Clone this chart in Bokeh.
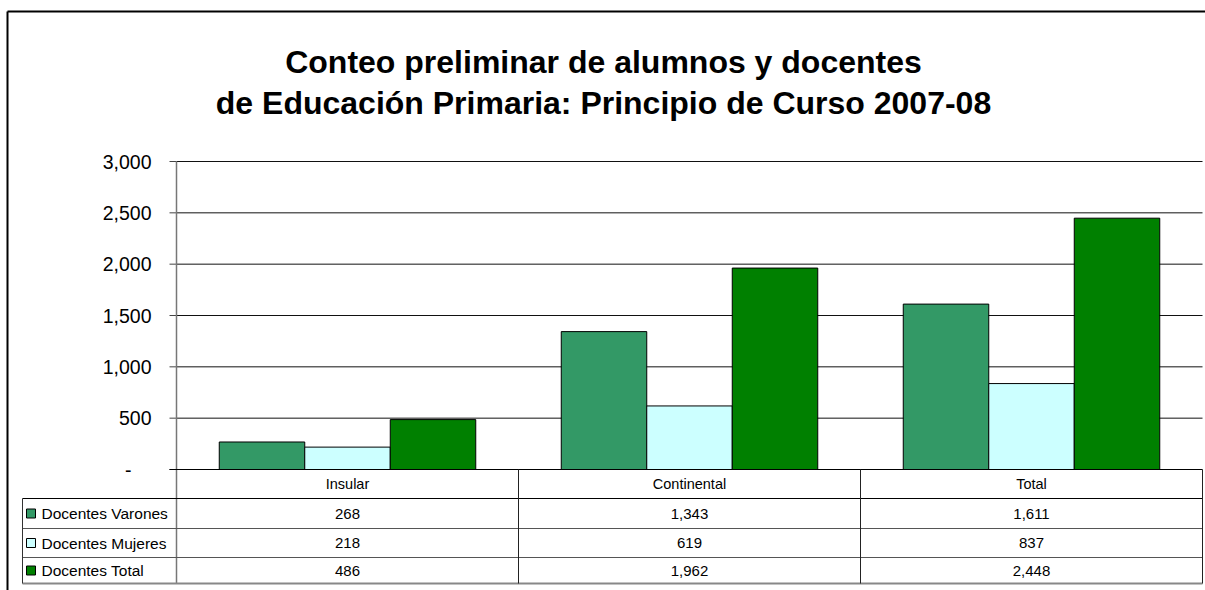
from bokeh.plotting import figure
from bokeh.models import Range1d, ColumnDataSource
from bokeh.core.properties import value
from bokeh.embed import file_html
from bokeh.resources import INLINE

# ---------------- data ----------------
categories = ["Insular", "Continental", "Total"]
series_names = ["Docentes Varones", "Docentes Mujeres", "Docentes Total"]
varones = [268, 1343, 1611]
mujeres = [218, 619, 837]
total = [486, 1962, 2448]
y_ticks = [0, 500, 1000, 1500, 2000, 2500, 3000]
y_tick_labels = ["-", "500", "1,000", "1,500", "2,000", "2,500", "3,000"]
title_lines = ["Conteo preliminar de alumnos y docentes",
               "de Educación Primaria: Principio de Curso 2007-08"]

# ---------------- style / layout ----------------
colors = ["#339966", "#CCFFFF", "#008000"]
FONT = value("Liberation Sans")
W, H = 1205, 590
PL, PR = 176, 1202      # plot area (pixels)
PT, PB = 161, 469
YMAX = y_ticks[-1]
n = len(categories)
ux = (PR - PL) / n
vy = (PB - PT) / YMAX


def X(px):
    return (px - PL) / ux


def Y(py):
    return (PB - py) / vy


p = figure(width=W, height=H, x_range=Range1d(X(0), X(W)), y_range=Range1d(Y(H), Y(0)),
           x_axis_location=None, y_axis_location=None, output_backend="svg",
           toolbar_location=None, min_border=0, outline_line_color=None,
           background_fill_color="white", border_fill_color="white")
p.grid.visible = False

# outer chart border: top line and left line
p.segment(x0=[X(7)], y0=[Y(11)], x1=[X(W)], y1=[Y(11)], line_color="black", line_width=2)
p.segment(x0=[X(7)], y0=[Y(11)], x1=[X(7)], y1=[Y(H)], line_color="black", line_width=2)

# title
p.text(x=[X(603)] * 2, y=[Y(61.5), Y(102.5)], text=title_lines, text_font=FONT,
       text_font_size="32px", text_font_style="bold", text_align="center",
       text_baseline="alphabetic", text_color="black")

# gridlines
gy = y_ticks[1:]
p.segment(x0=[0] * len(gy), x1=[n] * len(gy), y0=gy, y1=gy, line_color="#111111", line_width=1)
# tick marks
p.segment(x0=[X(169)] * len(y_ticks), x1=[0] * len(y_ticks), y0=y_ticks, y1=y_ticks,
          line_color="#444444", line_width=1)
# y tick labels
offs = [-20 if t == 0 else 0 for t in y_ticks]
p.text(x=[X(151)] * len(y_ticks), y=y_ticks, text=y_tick_labels, x_offset=offs,
       text_font=FONT, text_font_size="19.5px", text_align="right",
       text_baseline="middle", text_color="black")

# bars
offsets = [-0.25, 0.0, 0.25]
bw = 0.25
for vals, col, off in zip([varones, mujeres, total], colors, offsets):
    src = ColumnDataSource(dict(x=[i + 0.5 + off for i in range(n)], top=vals))
    p.vbar(x="x", top="top", bottom=0, width=bw, source=src, fill_color=col,
           line_color="black", line_width=1)

# axis lines
p.segment(x0=[0], y0=[Y(583)], x1=[0], y1=[YMAX], line_color="#777777", line_width=1.5)
p.segment(x0=[X(169)], y0=[0], x1=[n], y1=[0], line_color="black", line_width=1)

# data table
row_edges = [498, 528, 557, 583]
row_cols = ["black", "#555555", "#555555", "#888888"]
row_w = [1, 1, 1, 2]
for ry, c, lw in zip(row_edges, row_cols, row_w):
    p.segment(x0=[X(22)], y0=[Y(ry)], x1=[n], y1=[Y(ry)], line_color=c, line_width=lw)
p.segment(x0=[X(22)], y0=[Y(498)], x1=[X(22)], y1=[Y(583)], line_color="#333333", line_width=1)
vx = list(range(1, n + 1))
p.segment(x0=vx, y0=[0] * n, x1=vx, y1=[Y(583)] * n, line_color="#222222", line_width=1)

# category header
p.text(x=[i + 0.5 for i in range(n)], y=[Y(483.5)] * n, text=categories, text_font=FONT,
       text_font_size="14.5px", text_align="center", text_baseline="middle", text_color="black")

row_centers = [513, 542.5, 570]
for vals, name, col, rc in zip([varones, mujeres, total], series_names, colors, row_centers):
    p.text(x=[i + 0.5 for i in range(n)], y=[Y(rc)] * n, text=[f"{v:,}" for v in vals],
           text_font=FONT, text_font_size="15px", text_align="center",
           text_baseline="middle", text_color="black")
    p.scatter(x=[X(30.5)], y=[Y(rc)], marker="square", size=9, fill_color=col,
              line_color="black", line_width=1)
    p.text(x=[X(41)], y=[Y(rc)], text=[name], text_font=FONT, text_font_size="15.5px",
           text_align="left", text_baseline="middle", text_color="black")

open("out.html", "w").write(file_html(p, INLINE))
